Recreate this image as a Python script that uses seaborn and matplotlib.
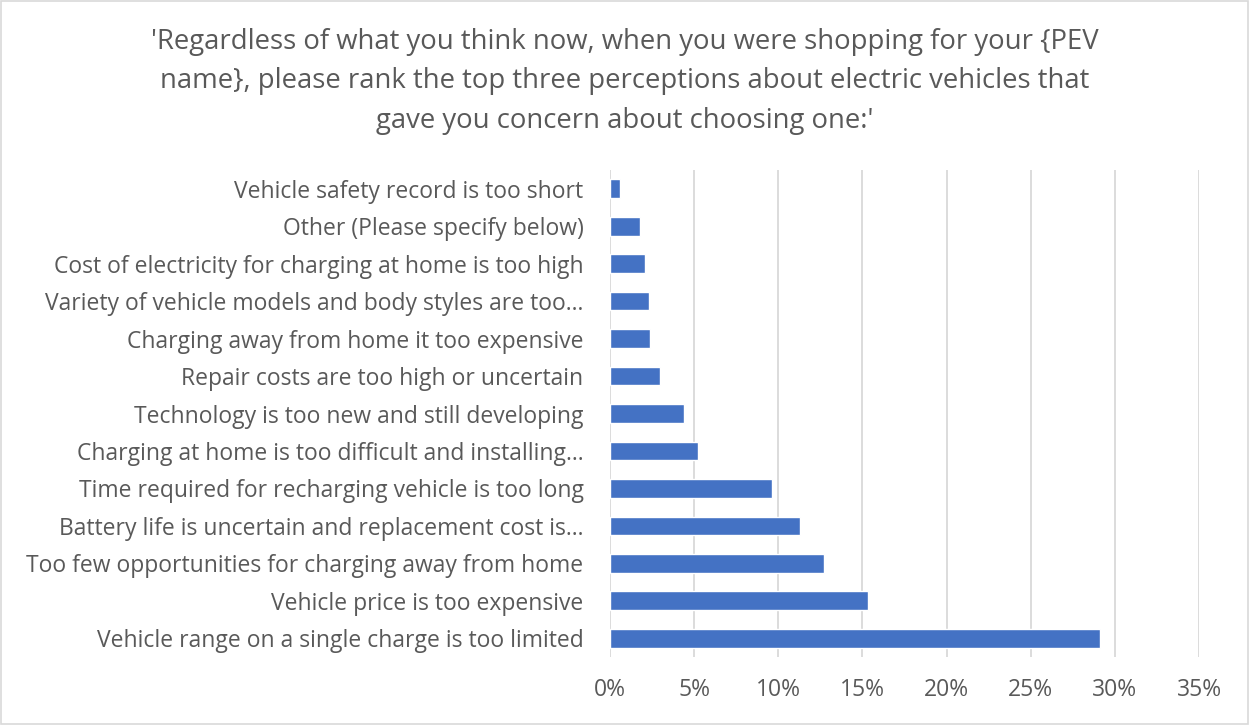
import matplotlib
matplotlib.use("Agg")
import matplotlib.pyplot as plt
import matplotlib.ticker as mticker
import seaborn as sns
import pandas as pd

# Concerns, listed top to bottom as drawn
concerns = [
    "Vehicle safety record is too short",
    "Other (Please specify below)",
    "Cost of electricity for charging at home is too high",
    "Variety of vehicle models and body styles are too…",
    "Charging away from home it too expensive",
    "Repair costs are too high or uncertain",
    "Technology is too new and still developing",
    "Charging at home is too difficult and installing…",
    "Time required for recharging vehicle is too long",
    "Battery life is uncertain and replacement cost is…",
    "Too few opportunities for charging away from home",
    "Vehicle price is too expensive",
    "Vehicle range on a single charge is too limited",
]
shares = [0.006, 0.018, 0.021, 0.023, 0.024, 0.030, 0.044, 0.052,
          0.096, 0.113, 0.127, 0.153, 0.291]
x_ticks = [0.00, 0.05, 0.10, 0.15, 0.20, 0.25, 0.30, 0.35]

title = ("'Regardless of what you think now, when you were shopping for your {PEV\n"
         "name}, please rank the top three perceptions about electric vehicles that\n"
         "gave you concern about choosing one:'")

df = pd.DataFrame({"concern": concerns, "share": shares})

sns.set_theme(style="white")
plt.rcParams["font.family"] = ["Open Sans", "DejaVu Sans"]

text_color = "#595959"
fig = plt.figure(figsize=(12.49, 7.25), dpi=100)
ax = fig.add_axes([0.4884, 0.0938, 0.4716, 0.6717])

sns.barplot(data=df, x="share", y="concern", order=concerns, orient="h",
            color="#4472C4", width=0.5, saturation=1, ax=ax)

ax.set_xlim(0, 0.35)
ax.set_xticks(x_ticks)
ax.xaxis.set_major_formatter(mticker.PercentFormatter(1.0, decimals=0))
ax.grid(axis="x", color="#d9d9d9", linewidth=1.3)
ax.set_axisbelow(True)
for s in ax.spines.values():
    s.set_visible(False)
ax.set_xlabel("")
ax.set_ylabel("")
ax.tick_params(axis="both", length=0, labelsize=16.5, colors=text_color)
ax.tick_params(axis="y", pad=19)
ax.tick_params(axis="x", pad=15)

fig.text(0.5, 0.888, title, ha="center", va="center", fontsize=19.8,
         color=text_color, linespacing=1.55)

# Light outer border around the chart area
fig.patches.append(plt.Rectangle((0.001, 0.001), 0.998, 0.997, transform=fig.transFigure,
                                 fill=False, edgecolor="#d9d9d9", linewidth=1.2))

fig.savefig("out.png", dpi=100, facecolor="white")
